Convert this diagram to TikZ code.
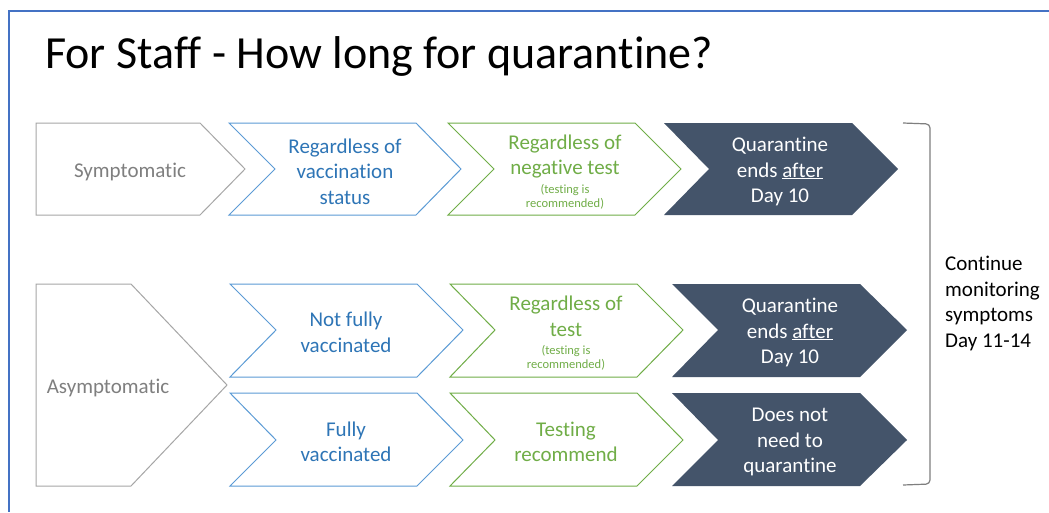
\documentclass[tikz,border=0pt]{standalone}
\usepackage{fontspec}
\setmainfont{Carlito}[Ligatures={NoCommon}]
\definecolor{grayline}{HTML}{A6A6A6}
\definecolor{graytext}{HTML}{7F7F7F}
\definecolor{blueline}{HTML}{5B9BD5}
\definecolor{bluetext}{HTML}{2E75B6}
\definecolor{greenline}{HTML}{70AD47}
\definecolor{greentext}{HTML}{70AD47}
\definecolor{darkfill}{HTML}{44546A}
\definecolor{frameblue}{HTML}{4472C4}
\definecolor{bracketgray}{HTML}{7F7F7F}
\tikzset{
  grayshape/.style={draw=grayline, line width=1pt, fill=white},
  blueshape/.style={draw=blueline, line width=1pt, fill=white},
  greenshape/.style={draw=greenline, line width=1pt, fill=white},
  darkshape/.style={fill=darkfill},
  bigtext/.style={font=\fontsize{21}{25.5}\selectfont, align=center, inner sep=0pt},
  smalltext/.style={font=\fontsize{12.5}{14}\selectfont, align=center, inner sep=0pt},
}
\begin{document}
\begin{tikzpicture}[x=1pt,y=-1pt]
\useasboundingbox (0,0) rectangle (1049,512);
\fill[white] (0,0) rectangle (1049,512);
\draw[frameblue, line width=2pt] (1049,11) -- (9,11) -- (9,512);

\node[anchor=base west, inner sep=0pt, font=\fontsize{46}{55}\selectfont] (title) at (45,68) {For Staff - How long for quarantine?};

% row 1
\path[grayshape] (36,123) -- (200,123) -- (245,169) -- (200,215) -- (36,215) -- cycle;
\path[blueshape] (229,123) -- (416,123) -- (461,169) -- (416,215) -- (229,215) -- (275,169) -- cycle;
\path[greenshape] (448,123) -- (635,123) -- (681,169) -- (635,215) -- (448,215) -- (494,169) -- cycle;
\path[darkshape] (664,123) -- (852,123) -- (898,169) -- (852,215) -- (664,215) -- (709,169) -- cycle;

% row 2/3
\path[grayshape] (36,284) -- (131,284) -- (227,385) -- (131,486) -- (36,486) -- cycle;
\path[blueshape] (230,284) -- (417,284) -- (463,330) -- (417,377) -- (230,377) -- (276,330) -- cycle;
\path[blueshape] (230,393) -- (417,393) -- (463,440) -- (417,486) -- (230,486) -- (276,440) -- cycle;
\path[greenshape] (450,284) -- (637,284) -- (683,330) -- (637,377) -- (450,377) -- (495,330) -- cycle;
\path[greenshape] (450,393) -- (637,393) -- (683,440) -- (637,486) -- (450,486) -- (495,440) -- cycle;
\path[darkshape] (672,284) -- (860,284) -- (907,330) -- (860,377) -- (672,377) -- (718,330) -- cycle;
\path[darkshape] (672,393) -- (860,393) -- (907,440) -- (860,486) -- (672,486) -- (718,440) -- cycle;

% bracket
\draw[bracketgray, line width=1.2pt, rounded corners=4pt] (903,123) -- (930,124) -- (930,484) -- (903,485);

% texts
\node[bigtext, text=graytext] (sym) at (130,171.5) {Symptomatic};
\node[bigtext, text=bluetext] (b1) at (345,171.5) {Regardless of\\vaccination\\status};
\node[bigtext, text=greentext] (g1) at (565,156.5) {Regardless of\\negative test};
\node[smalltext, text=greentext] (g1s) at (565,196.5) {(testing is\\recommended)};
\node[bigtext, text=white] (d1) at (780,171.5) {Quarantine\\ends \underline{after}\\Day 10};

\node[bigtext, text=graytext] (asym) at (108,387.5) {Asymptomatic};
\node[bigtext, text=bluetext] (b2) at (346,332.5) {Not fully\\vaccinated};
\node[bigtext, text=bluetext] (b3) at (346,442) {Fully\\vaccinated};
\node[bigtext, text=greentext] (g2) at (566,316.5) {Regardless of\\test};
\node[smalltext, text=greentext] (g2s) at (566,357.5) {(testing is\\recommended)};
\node[bigtext, text=greentext] (g3) at (566,442) {Testing\\recommend};
\node[bigtext, text=white] (d2) at (790,332.5) {Quarantine\\ends \underline{after}\\Day 10};
\node[bigtext, text=white] (d3) at (790,442) {Does not\\need to\\quarantine};

\node[bigtext, align=left, anchor=west, text=black] (cont) at (945,303.5) {Continue\\monitoring\\symptoms\\Day 11-14};
\end{tikzpicture}
\end{document}
